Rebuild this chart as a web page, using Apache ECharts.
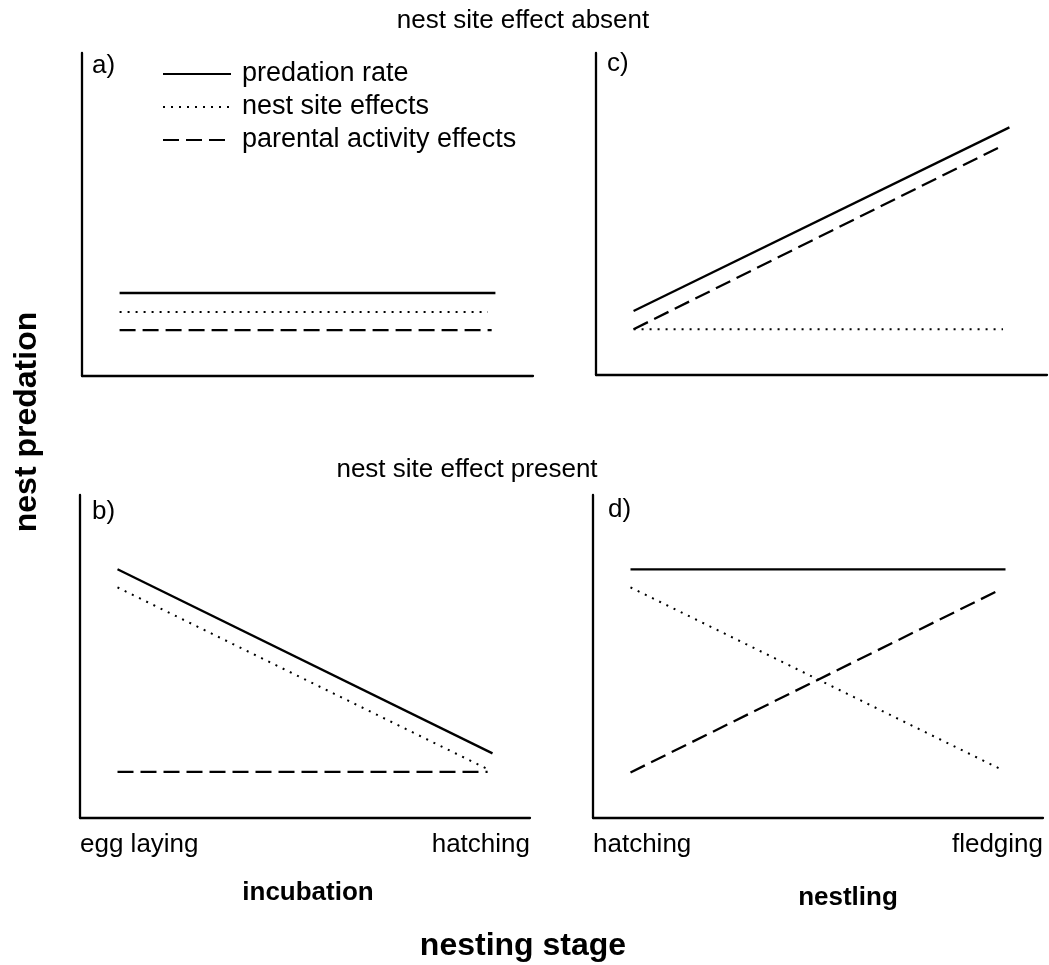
<!DOCTYPE html>
<html>
<head>
<meta charset="utf-8">
<script src="https://cdn.jsdelivr.net/npm/echarts@6/dist/echarts.min.js"></script>
<style>
  html, body { margin: 0; padding: 0; background: #fff; }
  #chart { width: 1049px; height: 965px; }
</style>
</head>
<body>
<div id="chart"></div>
<script>
// ---- data ----
const seriesNames = ['predation rate', 'nest site effects', 'parental activity effects'];
const panelLetters = ['a)', 'b)', 'c)', 'd)'];
const rowTitles = ['nest site effect absent', 'nest site effect present'];
const incubationTicks = ['egg laying', 'hatching'];
const nestlingTicks = ['hatching', 'fledging'];
const stageNames = ['incubation', 'nestling'];
const xAxisTitle = 'nesting stage';
const yAxisTitle = 'nest predation';

// [x, y] pairs: x = position within stage (0 start, 1 end), y = relative predation (0-10)
const a_pred = [[0, 2.57], [1.0, 2.57]];
const a_site = [[0, 1.98], [0.98, 1.98]];
const a_par  = [[0, 1.42], [0.99, 1.42]];

const b_pred = [[0, 7.70], [1.0, 2.00]];
const b_site = [[0, 7.14], [0.984, 1.53]];
const b_par  = [[0, 1.43], [0.987, 1.43]];

const c_pred = [[0, 1.99], [1.0, 7.69]];
const c_site = [[0, 1.42], [0.983, 1.42]];
const c_par  = [[0, 1.42], [0.983, 7.13]];

const d_pred = [[0, 7.70], [1.0, 7.70]];
const d_site = [[0, 7.14], [0.984, 1.53]];
const d_par  = [[0, 1.41], [0.984, 7.06]];

// ---- styling ----
const FONT = "'Liberation Sans', Arial, Helvetica, sans-serif";
const styles = [
  { type: 'solid', width: 2.3 },
  { type: [2, 6], width: 2 },
  { type: [16, 7], width: 2.3 }
];

const grids = [
  { left: 82, top: 53, width: 451, height: 323 },   // a
  { left: 80, top: 495, width: 450, height: 323 },  // b
  { left: 596, top: 53, width: 451, height: 322 },  // c
  { left: 593, top: 495, width: 450, height: 323 }  // d
];
const tickSets = [null, incubationTicks, null, nestlingTicks];
const panelData = [
  [a_pred, a_site, a_par],
  [b_pred, b_site, b_par],
  [c_pred, c_site, c_par],
  [d_pred, d_site, d_par]
];

const X_MIN = -0.1, X_MAX = 1.1;

const xAxes = grids.map((g, i) => {
  const ticks = tickSets[i];
  return {
    type: 'value', gridIndex: i, min: X_MIN, max: X_MAX,
    axisLine: { show: true, onZero: false, lineStyle: { color: '#000', width: 2.3 } },
    axisTick: { show: false },
    splitLine: { show: false },
    axisLabel: ticks ? {
      show: true,
      customValues: [X_MIN, X_MAX],
      formatter: v => (v <= X_MIN + 1e-9 ? ticks[0] : ticks[1]),
      alignMinLabel: 'left',
      alignMaxLabel: 'right',
      fontFamily: FONT, fontSize: 26, color: '#000', margin: 14
    } : { show: false }
  };
});

const yAxes = grids.map((g, i) => ({
  type: 'value', gridIndex: i, min: 0, max: 10,
  axisLine: { show: true, onZero: false, lineStyle: { color: '#000', width: 2.3 } },
  axisTick: { show: false },
  splitLine: { show: false },
  axisLabel: { show: false }
}));

const series = [];
panelData.forEach((sets, i) => {
  sets.forEach((d, k) => {
    series.push({
      type: 'line', name: seriesNames[k], xAxisIndex: i, yAxisIndex: i,
      data: d, symbol: 'none', silent: true,
      itemStyle: { color: '#000', opacity: 0 },
      lineStyle: { color: '#000', width: styles[k].width, type: styles[k].type, cap: 'butt' }
    });
  });
});

const letterPos = [[92, 66], [92, 512], [607, 64], [608, 510]];

const graphic = [];
panelLetters.forEach((t, i) => {
  graphic.push({ type: 'text', x: letterPos[i][0], y: letterPos[i][1],
    style: { text: t, font: `26px ${FONT}`, fill: '#000', align: 'left', verticalAlign: 'middle' } });
});
graphic.push({ type: 'text', x: 523, y: 21,
  style: { text: rowTitles[0], font: `26px ${FONT}`, fill: '#000', align: 'center', verticalAlign: 'middle' } });
graphic.push({ type: 'text', x: 467, y: 470,
  style: { text: rowTitles[1], font: `26px ${FONT}`, fill: '#000', align: 'center', verticalAlign: 'middle' } });
graphic.push({ type: 'text', x: 308, y: 893,
  style: { text: stageNames[0], font: `bold 26px ${FONT}`, fill: '#000', align: 'center', verticalAlign: 'middle' } });
graphic.push({ type: 'text', x: 848, y: 898,
  style: { text: stageNames[1], font: `bold 26px ${FONT}`, fill: '#000', align: 'center', verticalAlign: 'middle' } });
graphic.push({ type: 'text', x: 523, y: 946,
  style: { text: xAxisTitle, font: `bold 32px ${FONT}`, fill: '#000', align: 'center', verticalAlign: 'middle' } });
graphic.push({ type: 'text', x: 27, y: 422, rotation: Math.PI / 2,
  style: { text: yAxisTitle, font: `bold 32px ${FONT}`, fill: '#000', align: 'center', verticalAlign: 'middle' } });

const chart = echarts.init(document.getElementById('chart'), null, { renderer: 'canvas' });
chart.setOption({
  animation: false,
  backgroundColor: '#fff',
  grid: grids,
  xAxis: xAxes,
  yAxis: yAxes,
  legend: {
    orient: 'vertical', left: 157, top: 54,
    data: seriesNames, selectedMode: false,
    itemWidth: 68, itemHeight: 14, itemGap: 3,
    itemStyle: { opacity: 0 },
    textStyle: { fontFamily: FONT, fontSize: 27, color: '#000', lineHeight: 30, padding: [0, 0, 0, 6] }
  },
  series: series,
  graphic: graphic
});
</script>
</body>
</html>
